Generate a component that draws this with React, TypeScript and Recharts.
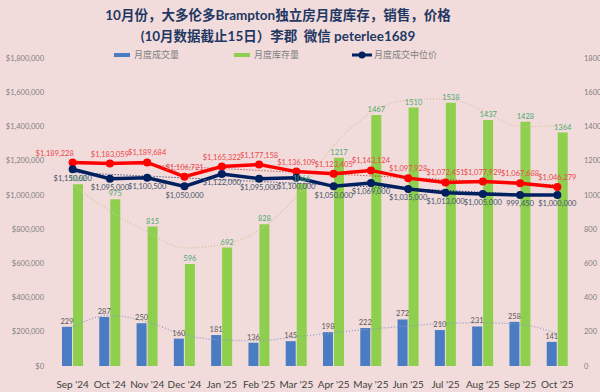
import React from 'react';
import { ComposedChart, Bar, Line, XAxis, YAxis, Legend, LabelList } from 'recharts';

const BG = '#F2DCDB';
const BLUE = '#4A7CC4';
const GREEN = '#8ED04E';
const RED = '#FF0000';
const NAVY = '#002060';

const months = ["Sep '24", "Oct '24", "Nov '24", "Dec '24", "Jan '25", "Feb '25", "Mar '25", "Apr '25", "May '25", "Jun '25", "Jul '25", "Aug '25", "Sep '25", "Oct '25"];
const sales = [229, 287, 250, 160, 181, 136, 145, 198, 222, 272, 210, 231, 258, 141];
const inventory = [1062, 975, 815, 596, 692, 828, 1066, 1217, 1467, 1510, 1538, 1437, 1428, 1364];
const avgPrice = [1189228, 1183059, 1189684, 1106721, 1165322, 1177158, 1136109, 1123405, 1143124, 1097928, 1072451, 1077929, 1067688, 1046279];
const medianPrice = [1150000, 1095000, 1100500, 1050000, 1122000, 1095000, 1100000, 1050000, 1069000, 1035000, 1013000, 1005000, 999450, 1000000];
// dotted trend lines
const salesTrend = [230, 296, 258, 182, 152, 148, 170, 195, 216, 234, 249, 252, 244, 188];
const inventoryTrend = [1060, 905, 785, 690, 708, 795, 990, 1290, 1478, 1555, 1562, 1495, 1398, 1405];
const avgTrend = [1196000, 1185000, 1175000, 1164000, 1154000, 1143000, 1132000, 1122000, 1111000, 1101000, 1090000, 1079000, 1069000, 1058000];
const medianTrend = [1131000, 1120000, 1110000, 1099000, 1089000, 1078000, 1068000, 1057000, 1047000, 1036000, 1026000, 1015000, 1005000, 994000];

const leftTicks = [0, 200000, 400000, 600000, 800000, 1000000, 1200000, 1400000, 1600000, 1800000];
const rightTicks = [0, 200, 400, 600, 800, 1000, 1200, 1400, 1600, 1800];
const legendOrder = ['月度成交量', '月度库存量', '月度成交中位价'];

const data = months.map((m, i) => ({
  month: m,
  sales: sales[i],
  inventory: inventory[i],
  avg: avgPrice[i],
  median: medianPrice[i],
  salesTrend: salesTrend[i],
  inventoryTrend: inventoryTrend[i],
  avgTrend: avgTrend[i],
  medianTrend: medianTrend[i],
}));

const money = (v: number) => '$' + Number(v).toLocaleString('en-US');
const priceLabel = (v: number) => (v >= 1000000 ? money(v) : Number(v).toLocaleString('en-US'));

function RedLabel(props: any) {
  const { x, y, value, index } = props;
  const dx = index === 0 ? -18 : 0;
  return (
    <text x={x + dx} y={y - 7} textAnchor="middle" fontSize={7.5} fill="#E8474B">
      {money(value)}
    </text>
  );
}

function LegendContent(props: any) {
  const items = (props.payload || [])
    .filter((p: any) => legendOrder.includes(p.value))
    .sort((a: any, b: any) => legendOrder.indexOf(a.value) - legendOrder.indexOf(b.value));
  return (
    <div style={{ position: 'relative', height: 14, fontSize: 9, color: '#7F7F7F' }}>
      {items.map((p: any, i: number) => (
        <div
          key={p.value}
          style={{ position: 'absolute', left: 112 + i * 120, top: 0, display: 'flex', alignItems: 'center', whiteSpace: 'nowrap' }}
        >
          <svg width={20} height={10} style={{ marginRight: 2 }}>
            {p.type === 'line' ? (
              <g>
                <line x1={0} y1={5} x2={20} y2={5} stroke={p.color} strokeWidth={3} />
                <circle cx={10} cy={5} r={3.5} fill={p.color} />
              </g>
            ) : (
              <rect x={2} y={3} width={16} height={4} fill={p.color} />
            )}
          </svg>
          <span>{p.value}</span>
        </div>
      ))}
    </div>
  );
}

export default function App() {
  return (
    <div
      style={{
        position: 'absolute',
        left: 0,
        top: 0,
        width: 600,
        height: 392,
        background: BG,
        fontFamily: 'Lato, "Noto Sans CJK SC", sans-serif',
        overflow: 'hidden',
      }}
    >
      <div
        style={{
          position: 'absolute',
          left: 0,
          top: 5,
          width: 556,
          textAlign: 'center',
          color: '#1F3864',
          fontWeight: 700,
          fontSize: 13.5,
          lineHeight: '21px',
        }}
      >
        <div>10月份，大多伦多Brampton独立房月度库存，销售，价格</div>
        <div>(10月数据截止15日）李郡&nbsp;&nbsp;微信 peterlee1689</div>
      </div>
      <ComposedChart
        width={600}
        height={392}
        data={data}
        margin={{ top: 58, right: 0, bottom: 0, left: 4 }}
        barSize={10}
        barGap={1}
      >
        <XAxis
          dataKey="month"
          interval={0}
          height={26}
          axisLine={false}
          tickLine={false}
          tickMargin={9}
          tick={{ fontSize: 10, fill: '#404040' }}
        />
        <YAxis
          yAxisId="left"
          domain={[0, 1800000]}
          ticks={leftTicks}
          width={50}
          axisLine={false}
          tickLine={false}
          tickSize={8}
          tickFormatter={money}
          tick={{ fontSize: 7.5, fill: '#7F7F7F' }}
        />
        <YAxis
          yAxisId="right"
          orientation="right"
          domain={[0, 1800]}
          ticks={rightTicks}
          width={24}
          axisLine={false}
          tickLine={false}
          tickSize={6}
          tick={{ fontSize: 7.5, fill: '#7F7F7F', textAnchor: 'start' }}
        />
        <Legend
          layout="horizontal"
          verticalAlign="middle"
          align="center"
          wrapperStyle={{ top: 48, left: 0, width: 600 }}
          content={LegendContent}
        />
        <Bar yAxisId="right" dataKey="sales" name="月度成交量" fill={BLUE} isAnimationActive={false}>
          <LabelList dataKey="sales" position="top" offset={3} fontSize={7.5} fill="#595959" />
        </Bar>
        <Bar yAxisId="right" dataKey="inventory" name="月度库存量" fill={GREEN} isAnimationActive={false}>
          <LabelList dataKey="inventory" position="top" offset={3} fontSize={7.5} fill="#4BAA72" />
        </Bar>
        <Line
          yAxisId="right"
          dataKey="salesTrend"
          type="monotone"
          stroke="#8E9CC0"
          strokeWidth={1.3}
          strokeDasharray="1 2"
          dot={false}
          legendType="none"
          isAnimationActive={false}
        />
        <Line
          yAxisId="right"
          dataKey="inventoryTrend"
          type="monotone"
          stroke="#D2C29E"
          strokeWidth={1.3}
          strokeDasharray="1 2"
          dot={false}
          legendType="none"
          isAnimationActive={false}
        />
        <Line
          yAxisId="left"
          dataKey="avgTrend"
          type="linear"
          stroke="#B02020"
          strokeWidth={1}
          strokeDasharray="1 2"
          dot={false}
          legendType="none"
          isAnimationActive={false}
        />
        <Line
          yAxisId="left"
          dataKey="medianTrend"
          type="linear"
          stroke={NAVY}
          strokeWidth={1}
          strokeDasharray="1 2"
          dot={false}
          legendType="none"
          isAnimationActive={false}
        />
        <Line
          yAxisId="left"
          dataKey="avg"
          name="月度成交均价"
          type="linear"
          stroke={RED}
          strokeWidth={3.5}
          dot={{ r: 4, fill: RED, stroke: RED, strokeWidth: 0 }}
          legendType="none"
          isAnimationActive={false}
        >
          <LabelList dataKey="avg" content={RedLabel} />
        </Line>
        <Line
          yAxisId="left"
          dataKey="median"
          name="月度成交中位价"
          type="linear"
          stroke={NAVY}
          strokeWidth={3.5}
          dot={{ r: 4, fill: NAVY, stroke: NAVY, strokeWidth: 0 }}
          legendType="line"
          isAnimationActive={false}
        >
          <LabelList dataKey="median" position="bottom" offset={6} fontSize={7.5} fill="#44546A" formatter={priceLabel} />
        </Line>
      </ComposedChart>
    </div>
  );
}
